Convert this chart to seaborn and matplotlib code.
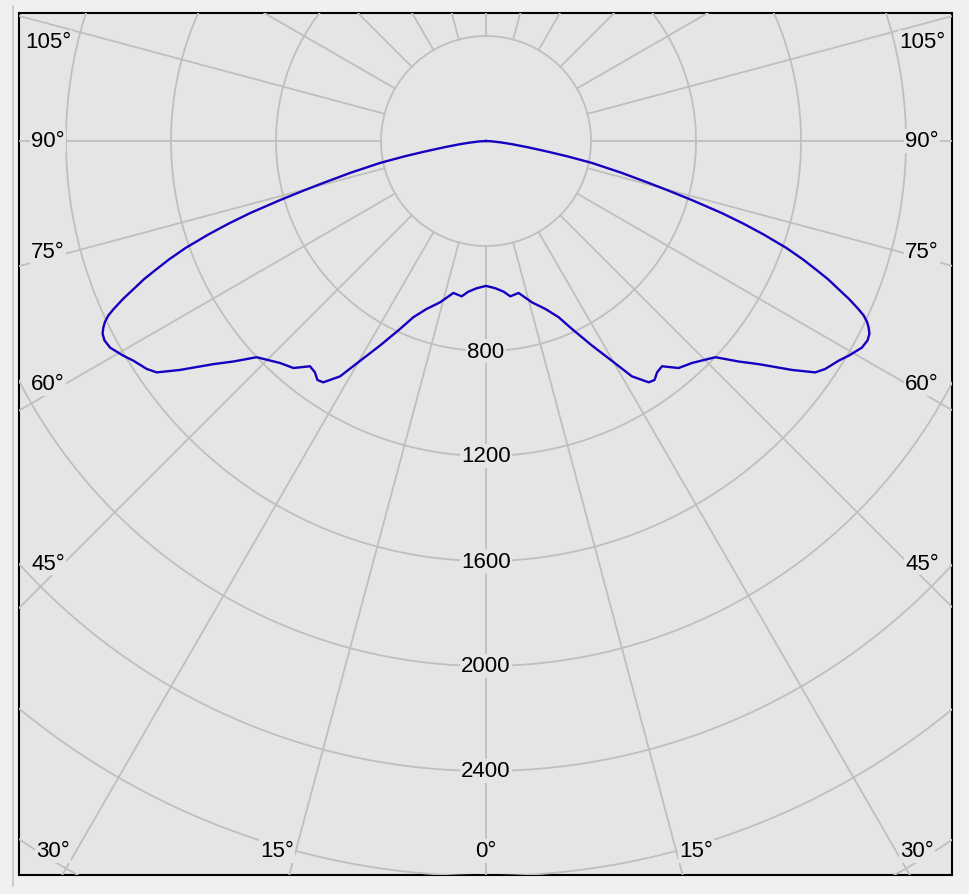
import numpy as np
import pandas as pd
import matplotlib
matplotlib.use("Agg")
import matplotlib.pyplot as plt
from matplotlib.lines import Line2D
import seaborn as sns

plt.rcParams['font.family'] = ['Liberation Sans', 'DejaVu Sans']

# ---------------- data (luminous intensity, cd, vs. angle from nadir) ----------------
gamma_deg = [0, 3.6, 6.7, 8.9, 12.1, 15.9, 19.5, 22.4, 24.6, 27.4, 29.8, 31.8, 34.0,
             35.2, 36.5, 38.0, 40.3, 42.9, 46.7, 48.9, 50.7, 53.2, 54.9, 56.1, 58.1,
             59.4, 61.2, 62.4, 63.3, 64.0, 64.6, 65.2, 65.7, 66.5, 67.2, 68.0, 68.7,
             69.5, 70.4, 71.4, 72.2, 73.0, 74.0, 74.8, 75.5, 76.8, 78.3, 79.3, 80.2,
             81.5, 83.0, 84.5, 86.5, 90.0]
intensity_cd = [552, 562, 578, 599, 592, 639, 679, 726, 788, 878, 965, 1055, 1109,
                1114, 1096, 1089, 1134, 1154, 1201, 1278, 1342, 1456, 1533, 1557, 1583,
                1606, 1634, 1640, 1635, 1622, 1607, 1585, 1557, 1507, 1457, 1405, 1350,
                1290, 1215, 1115, 1030, 940, 815, 720, 645, 530, 412, 318, 240,
                160, 100, 58, 25, 0]
ring_values = [800, 1200, 1600, 2000, 2400]
side_angle_labels = ["105°", "90°", "75°", "60°", "45°"]
bottom_angle_labels = ["30°", "15°", "0°", "15°", "30°"]

# ---------------- layout ----------------
W, H, DPI = 969, 895, 100
BG_OUT = '#f0f0f0'
BG_IN = '#e5e5e5'
GRID = '#bfbfbf'
CURVE = '#1500bf'
FS = 16

fig = plt.figure(figsize=(W / DPI, H / DPI), dpi=DPI, facecolor=BG_OUT)


def px_rect(left, top, right, bottom):
    return [left / W, 1 - bottom / H, (right - left) / W, (bottom - top) / H]


frame_ax = fig.add_axes(px_rect(19, 14, 952, 876))
frame_ax.set_facecolor(BG_IN)
frame_ax.set_xticks([])
frame_ax.set_yticks([])
for s in frame_ax.spines.values():
    s.set_color('black')
    s.set_linewidth(1.5)
    s.set_zorder(10)
frame_ax.set_zorder(0)

cx, cy = 486, 142
px_per_unit = 105 / 400
rmax = 4000
R = rmax * px_per_unit
pax = fig.add_axes(px_rect(cx - R, cy - R, cx + R, cy + R), projection='polar')
pax.set_zorder(1)
pax.set_theta_zero_location('S')
pax.set_ylim(0, rmax)
pax.patch.set_alpha(0)
pax.grid(False)
pax.set_xticks([])
pax.set_yticks([])
pax.spines['polar'].set_visible(False)

# grid rings and spokes
tt = np.linspace(0, 2 * np.pi, 1441)
for r in range(400, rmax + 1, 400):
    pax.plot(tt, np.full_like(tt, r), color=GRID, lw=1.3, zorder=1)
for a in range(0, 360, 15):
    t = np.deg2rad(a)
    pax.plot([t, t], [400, rmax], color=GRID, lw=1.3, zorder=1)

# curve (symmetric C0/C180 plane)
theta = [-np.deg2rad(g) for g in gamma_deg[::-1]] + [np.deg2rad(g) for g in gamma_deg[1:]]
inten = intensity_cd[::-1] + intensity_cd[1:]
df = pd.DataFrame({'theta': theta, 'I': inten})
sns.lineplot(data=df, x='theta', y='I', ax=pax, sort=False, estimator=None,
             color=CURVE, lw=1.7, zorder=5)
pax.set_xlabel('')
pax.set_ylabel('')
pax.set_ylim(0, rmax)

for ln in pax.lines:
    ln.set_clip_box(frame_ax.bbox)
    ln.set_solid_joinstyle('round')

# radial labels
for v in ring_values:
    pax.text(0, v, str(v), ha='center', va='center', fontsize=FS, color='black', zorder=4,
             bbox=dict(facecolor=BG_IN, edgecolor='none', pad=1.0))

# angle labels
side_y = [43, 142, 253, 385, 564]
for lab, y in zip(side_angle_labels, side_y):
    for x in (48, 922):
        fig.text(x / W, 1 - y / H, lab, ha='center', va='center', fontsize=FS, color='black',
                 zorder=5, bbox=dict(facecolor=BG_IN, edgecolor='none', pad=1.0))
bottom_x = [53, 277, 486, 696, 917]
for lab, x in zip(bottom_angle_labels, bottom_x):
    fig.text(x / W, 1 - 852 / H, lab, ha='center', va='center', fontsize=FS, color='black',
             zorder=5, bbox=dict(facecolor=BG_IN, edgecolor='none', pad=1.0))

# thin outer divider on the left
fig.add_artist(Line2D([13 / W, 13 / W], [1 - 7 / H, 1 - 887 / H], color='#c6c6c6', lw=1.2,
                      transform=fig.transFigure))

fig.savefig('out.png', dpi=DPI, facecolor=BG_OUT)
